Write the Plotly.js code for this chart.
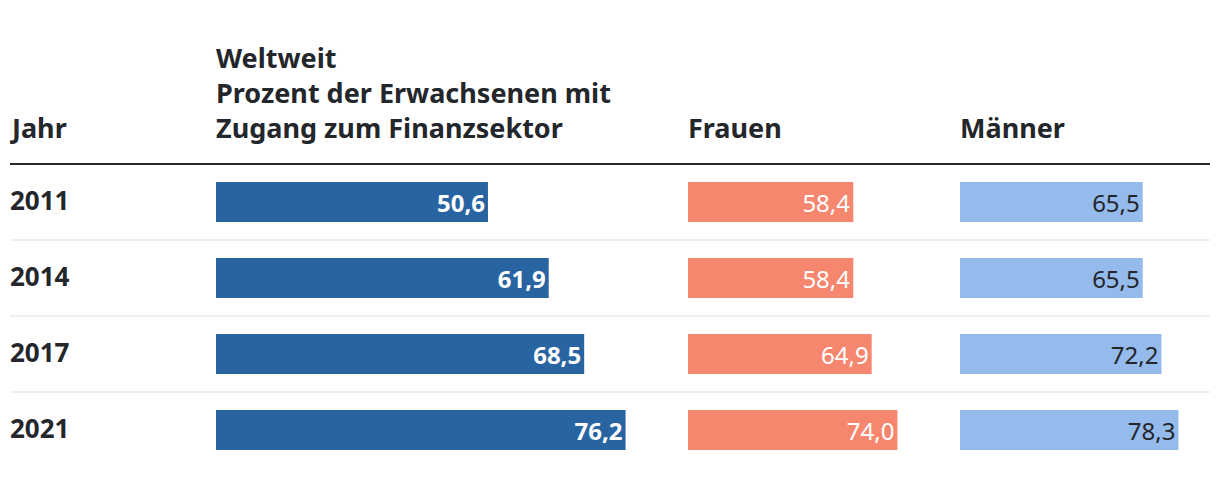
<!DOCTYPE html>
<html><head><meta charset="utf-8">
<script src="https://cdn.plot.ly/plotly-3.0.1.min.js"></script>
<style>html,body{margin:0;padding:0;background:#fff;}#chart{width:1220px;height:478px;}</style>
</head><body><div id="chart"></div>
<script>
const years = ['2011', '2014', '2017', '2021'];
const weltweit = [50.6, 61.9, 68.5, 76.2];
const frauen = [58.4, 58.4, 64.9, 74.0];
const maenner = [65.5, 65.5, 72.2, 78.3];
const headers = ['Jahr', 'Weltweit<br>Prozent der Erwachsenen mit<br>Zugang zum Finanzsektor', 'Frauen', 'Männer'];

const W = 1220, H = 478;
const FONT = '"Noto Sans", "Open Sans", sans-serif';
const px = x => x / W;
const py = y => 1 - y / H;
const R = 80;
const dom = (x0, s) => [px(x0), px(x0 + s * R)];

const ydom = [py(468), py(164)];
const yax = {domain: ydom, type: 'category', categoryorder: 'array', categoryarray: years,
  range: [3.5, -0.5], showticklabels: false, showgrid: false, zeroline: false, showline: false, fixedrange: true};
const xax = (d) => ({domain: d, range: [0, R], showticklabels: false, showgrid: false, zeroline: false, showline: false, fixedrange: true});

function bar(vals, color, xa, ya, tcolor, bold) {
  return {type: 'bar', orientation: 'h', y: years, x: vals, xaxis: xa, yaxis: ya,
    marker: {color: color}, width: 40 / 76,
    texttemplate: '%{x:.1f}', textposition: 'inside', insidetextanchor: 'end',
    textfont: {family: FONT, size: 24, color: tcolor, weight: bold ? 'bold' : 'normal'},
    constraintext: 'none', hoverinfo: 'skip', cliponaxis: false};
}

const data = [
  bar(weltweit, '#2964a2', 'x', 'y', '#ffffff', true),
  bar(frauen, '#f7866f', 'x2', 'y2', '#ffffff', false),
  bar(maenner, '#94bbec', 'x3', 'y3', '#23262b', false)
];

const shapes = [
  {type: 'line', xref: 'paper', yref: 'paper', x0: px(10), x1: px(1210), y0: py(164), y1: py(164), line: {color: '#2b2b2e', width: 2}}
];
[0.5, 1.5, 2.5].forEach(v => shapes.push({type: 'line', xref: 'paper', yref: 'y', x0: px(10), x1: px(1210), y0: v, y1: v, line: {color: '#e8e8e8', width: 1.5}, layer: 'below'}));

const hx = [10, 216, 688, 960];
const annotations = headers.map((t, i) => ({text: '<b>' + t + '</b>', xref: 'paper', yref: 'paper', x: px(hx[i] - 2), y: py(148),
  xanchor: 'left', yanchor: 'bottom', align: 'left', showarrow: false,
  font: {family: FONT, size: 27, color: '#23262b'}}));
years.forEach((yr, i) => annotations.push({text: '<b>' + yr + '</b>', xref: 'paper', yref: 'y', x: px(8), y: i, yshift: 2,
  xanchor: 'left', yanchor: 'middle', showarrow: false, font: {family: FONT, size: 26, color: '#23262b'}}));

const layout = {
  width: W, height: H, margin: {l: 0, r: 0, t: 0, b: 0},
  paper_bgcolor: '#ffffff', plot_bgcolor: 'rgba(0,0,0,0)',
  separators: ',.', showlegend: false, barmode: 'overlay',
  font: {family: FONT, size: 24, color: '#23262b'},
  xaxis: xax(dom(216, 5.375)), yaxis: Object.assign({}, yax),
  xaxis2: Object.assign(xax(dom(688, 2.83)), {anchor: 'y2'}), yaxis2: Object.assign({}, yax, {anchor: 'x2'}),
  xaxis3: Object.assign(xax(dom(960, 2.79)), {anchor: 'y3'}), yaxis3: Object.assign({}, yax, {anchor: 'x3'}),
  shapes: shapes, annotations: annotations
};
layout.yaxis.anchor = 'x';
Plotly.newPlot('chart', data, layout, {displayModeBar: false, staticPlot: true});
</script></body></html>
